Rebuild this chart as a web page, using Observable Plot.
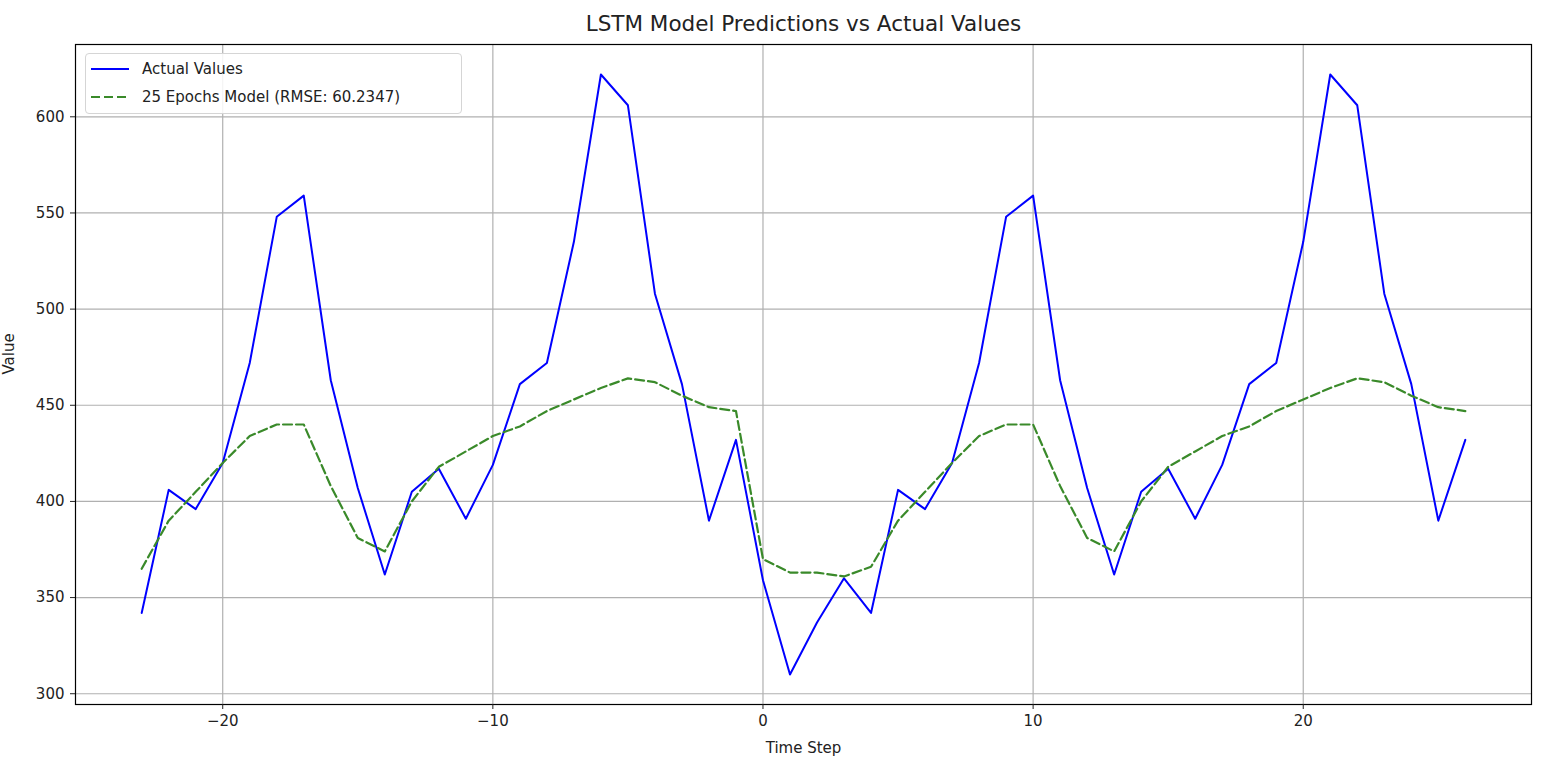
<!DOCTYPE html>
<html>
<head>
<meta charset="utf-8">
<script src="https://cdn.jsdelivr.net/npm/d3@7"></script>
<script src="https://cdn.jsdelivr.net/npm/@observablehq/plot@0.6"></script>
<style>
  body { margin: 0; background: #fff; font-family: "DejaVu Sans", sans-serif; }
  #wrap { position: relative; width: 1542px; height: 776px; }
  #legend { position: absolute; left: 85px; top: 53px; width: 377px; height: 61px; border: 1px solid #d5d5d5; border-radius: 4px; background: rgba(255,255,255,0.85); font-size: 15px; color: #222; box-sizing: border-box; }
  .row { position: absolute; left: 4px; display: flex; align-items: center; }
  .row svg { margin-right: 12px; }
</style>
</head>
<body>
<div id="wrap">
  <div id="chart"></div>
  <div id="legend">
    <div class="row" style="top:6px"><svg width="40" height="10"><line x1="1" y1="5" x2="39" y2="5" stroke="#0000ff" stroke-width="2"/></svg><span>Actual Values</span></div>
    <div class="row" style="top:34px"><svg width="40" height="10"><line x1="1" y1="5" x2="39" y2="5" stroke="#3a8a2a" stroke-width="2.2" stroke-dasharray="9,4"/></svg><span>25 Epochs Model (RMSE: 60.2347)</span></div>
  </div>
</div>
<script>
const timeSteps = d3.range(-23, 27);
const actualValues = [342, 406, 396, 420, 472, 548, 559, 463, 407, 362, 405, 417, 391, 419, 461, 472, 535, 622, 606, 508, 461, 390, 432,
  359, 310, 337, 360, 342, 406, 396, 420, 472, 548, 559, 463, 407, 362, 405, 417, 391, 419, 461, 472, 535, 622, 606, 508, 461, 390, 432];
const predictedValues = [365, 390, 405, 420, 434, 440, 440, 408, 381, 374, 400, 418, 426, 434, 439, 447, 453, 459, 464, 462, 455, 449, 447,
  370, 363, 363, 361, 366, 390, 405, 420, 434, 440, 440, 408, 381, 374, 400, 418, 426, 434, 439, 447, 453, 459, 464, 462, 455, 449, 447];
const xTicks = [-20, -10, 0, 10, 20];
const yTicks = [300, 350, 400, 450, 500, 550, 600];

const actual = timeSteps.map((t, i) => ({t, v: actualValues[i]}));
const pred = timeSteps.map((t, i) => ({t, v: predictedValues[i]}));
const fmtX = d => d < 0 ? "\u2212" + Math.abs(d) : String(d);

const chart = Plot.plot({
  width: 1542,
  height: 776,
  marginLeft: 75,
  marginRight: 11,
  marginTop: 44,
  marginBottom: 72,
  style: {fontFamily: "DejaVu Sans, sans-serif", fontSize: "14px", color: "#222", background: "#fff"},
  x: {domain: [-25.45, 28.45], label: null},
  y: {domain: [294.4, 637.6], label: null},
  marks: [
    Plot.gridX(xTicks, {stroke: "#b0b0b0", strokeOpacity: 1, strokeWidth: 1.2}),
    Plot.gridY(yTicks, {stroke: "#b0b0b0", strokeOpacity: 1, strokeWidth: 1.2}),
    Plot.line(actual, {x: "t", y: "v", stroke: "#0000ff", strokeWidth: 2}),
    Plot.line(pred, {x: "t", y: "v", stroke: "#3a8a2a", strokeWidth: 2.2, strokeDasharray: "9,4"}),
    Plot.frame({stroke: "#000", strokeWidth: 1.2}),
    Plot.axisX(xTicks, {tickSize: 5, tickPadding: 6, fontSize: 15, tickFormat: fmtX, label: null}),
    Plot.axisY(yTicks, {tickSize: 5, tickPadding: 6, fontSize: 15, label: null}),
    Plot.text(["Time Step"], {frameAnchor: "bottom", lineAnchor: "middle", dy: 44, fontSize: 15, fill: "#222"}),
    Plot.text(["Value"], {frameAnchor: "left", dx: -66, rotate: -90, fontSize: 15, fill: "#222"}),
    Plot.text(["LSTM Model Predictions vs Actual Values"], {frameAnchor: "top", lineAnchor: "middle", dy: -20, fontSize: 21.5, fill: "#222"})
  ]
});
document.getElementById("chart").appendChild(chart);
</script>
</body>
</html>
